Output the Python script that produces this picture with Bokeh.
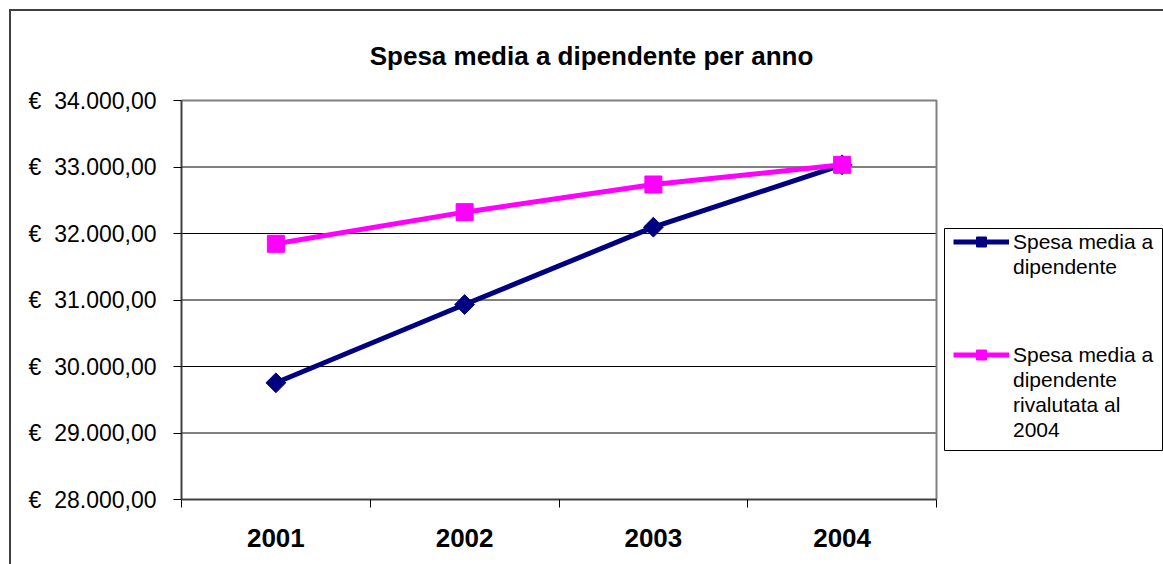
from bokeh.plotting import figure
from bokeh.models import Range1d, FixedTicker, Legend, LegendItem, Label, BoxAnnotation
from bokeh.embed import file_html
from bokeh.resources import INLINE

# ---- data ----
years = ["2001", "2002", "2003", "2004"]
spesa_media = [29755, 30932, 32095, 33033]
spesa_rivalutata = [31845, 32321, 32737, 33033]
y_ticks = [28000, 29000, 30000, 31000, 32000, 33000, 34000]
y_tick_labels = ["€\u00a0 28.000,00", "€\u00a0 29.000,00", "€\u00a0 30.000,00", "€\u00a0 31.000,00",
                 "€\u00a0 32.000,00", "€\u00a0 33.000,00", "€\u00a0 34.000,00"]
title_text = "Spesa media a dipendente per anno"
legend_lines_1 = ["Spesa media a", "dipendente"]
legend_lines_2 = ["Spesa media a", "dipendente", "rivalutata al", "2004"]

FONT = "Liberation Sans"
NAVY = "#000080"
MAGENTA = "#FF00FF"

# ---- layout (pixels) ----
PLOT_W, PLOT_H = 755, 399      # visible plot area (categories / value range)
FRAME_W, FRAME_H = 982, 484    # drawing frame, extended right/up for legend and title
L, T, B = 170, 4, 65

x_centers = [i + 0.5 for i in range(len(years))]
x_bounds = [float(i) for i in range(len(years) + 1)]
y_lo, y_hi = y_ticks[0], y_ticks[-1]
x_end = x_bounds[-1] * FRAME_W / PLOT_W
y_end = y_lo + (y_hi - y_lo) * FRAME_H / PLOT_H

p = figure(title=None, frame_width=FRAME_W, frame_height=FRAME_H,
           output_backend="svg", toolbar_location=None,
           x_range=Range1d(x_bounds[0], x_end), y_range=Range1d(y_lo, y_end),
           min_border_left=L, min_border_top=T, min_border_right=0, min_border_bottom=B)
p.styles = {"margin-top": "9px", "margin-left": "9px",
            "border-top": "2px solid #404040", "border-left": "2px solid #404040"}

p.background_fill_color = "white"
p.border_fill_color = "white"
p.outline_line_color = None
p.xgrid.grid_line_color = None
p.ygrid.grid_line_color = None

# gridlines (inside the plot area only)
inner = y_ticks[1:-1]
p.segment(x0=[x_bounds[0]] * len(inner), y0=inner, x1=[x_bounds[-1]] * len(inner), y1=inner,
          line_color="black", line_width=1)
# plot-area border (top and right)
p.line(x=[x_bounds[0], x_bounds[-1], x_bounds[-1]], y=[y_hi, y_hi, y_lo],
       line_color="#808080", line_width=2)

# title
p.add_layout(Label(x=410, y=444, x_units="screen", y_units="screen", text=title_text,
                   text_font=FONT, text_font_size="26px", text_font_style="bold",
                   text_color="black", text_align="center", text_baseline="middle"))

# x axis
xa = p.xaxis[0]
xa.bounds = (x_bounds[0], x_bounds[-1])
xa.ticker = FixedTicker(ticks=x_centers, minor_ticks=x_bounds)
xa.major_label_overrides = {c: y for c, y in zip(x_centers, years)}
xa.major_tick_line_color = None
xa.major_tick_out = 0
xa.major_tick_in = 0
xa.minor_tick_line_color = "black"
xa.minor_tick_out = 8
xa.minor_tick_in = 0
xa.axis_line_color = "#404040"
xa.axis_line_width = 2
xa.major_label_text_font = FONT
xa.major_label_text_font_size = "26px"
xa.major_label_text_font_style = "bold"
xa.major_label_text_color = "black"
xa.major_label_standoff = 21

# y axis
ya = p.yaxis[0]
ya.bounds = (y_lo, y_hi)
ya.ticker = FixedTicker(ticks=y_ticks)
ya.major_label_overrides = {t: s for t, s in zip(y_ticks, y_tick_labels)}
ya.major_tick_out = 8
ya.major_tick_in = 0
ya.major_tick_line_color = "black"
ya.minor_tick_line_color = None
ya.axis_line_color = "#404040"
ya.axis_line_width = 2
ya.major_label_text_font = FONT
ya.major_label_text_font_size = "23px"
ya.major_label_text_color = "black"
ya.major_label_standoff = 17

# series
l1 = p.line(x_centers, spesa_media, line_color=NAVY, line_width=5)
s1 = p.scatter(x_centers, spesa_media, marker="square", size=14, angle=0.785398,
               fill_color=NAVY, line_color=NAVY)
l2 = p.line(x_centers, spesa_rivalutata, line_color=MAGENTA, line_width=5)
s2 = p.scatter(x_centers, spesa_rivalutata, marker="square", size=17,
               fill_color=MAGENTA, line_color=MAGENTA)

# legend frame
p.add_layout(BoxAnnotation(left=763, right=981, bottom=49, top=271,
                           left_units="screen", right_units="screen",
                           bottom_units="screen", top_units="screen",
                           fill_color="white", fill_alpha=1,
                           line_color="black", line_width=1, line_alpha=1))

common = dict(margin=0, padding=0, spacing=0, glyph_width=56, glyph_height=25,
              label_standoff=4, label_text_font=FONT, label_text_font_size="21px",
              label_text_color="black", border_line_color=None,
              background_fill_alpha=0)

items1 = [LegendItem(label=legend_lines_1[0], renderers=[l1, s1])] + \
         [LegendItem(label=t, renderers=[]) for t in legend_lines_1[1:]]
items2 = [LegendItem(label=legend_lines_2[0], renderers=[l2, s2])] + \
         [LegendItem(label=t, renderers=[]) for t in legend_lines_2[1:]]

p.add_layout(Legend(items=items1, location=(772, 220), **common), "center")
p.add_layout(Legend(items=items2, location=(772, 57), **common), "center")

open("out.html", "w").write(file_html(p, INLINE))
